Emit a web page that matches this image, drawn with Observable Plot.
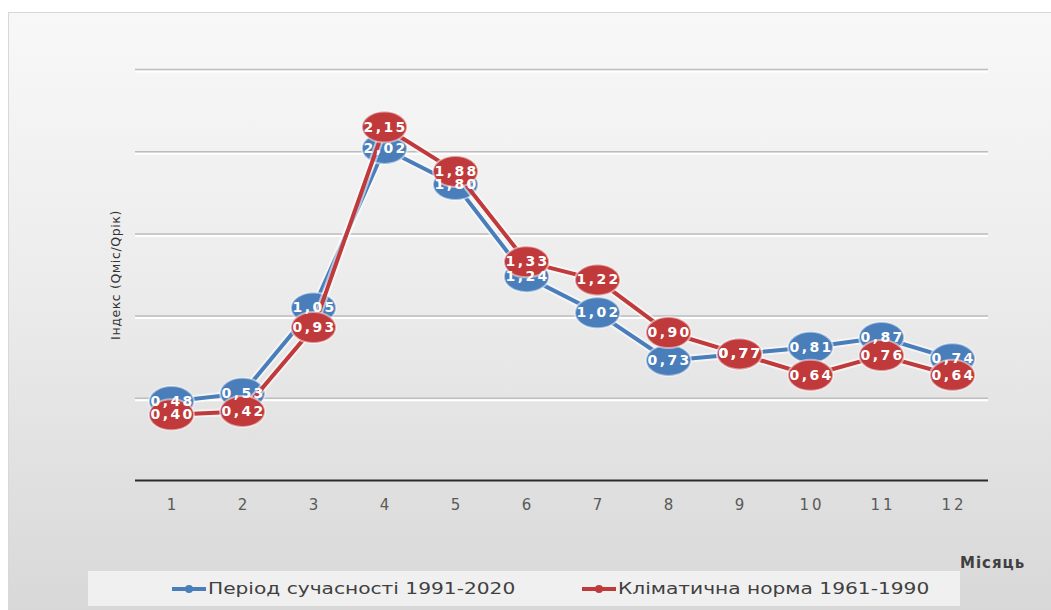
<!DOCTYPE html>
<html>
<head>
<meta charset="utf-8">
<script src="https://cdn.jsdelivr.net/npm/d3@7"></script>
<script src="https://cdn.jsdelivr.net/npm/@observablehq/plot@0.6"></script>
<style>
  html, body { margin: 0; padding: 0; background: #ffffff; }
  #wrap { position: relative; width: 1051px; height: 610px; overflow: hidden; }
  #frame { position: absolute; left: 8px; top: 12px; width: 1043px; height: 598px;
           background: linear-gradient(to bottom, #f8f8f8 0%, #ececec 45%, #d8d8d8 100%);
           border-top: 1px solid #d8d8d8; border-left: 1px solid #d8d8d8; }
  #chart { position: absolute; left: 0; top: 0; }
  .legend { position: absolute; left: 88px; top: 571px; width: 872px; height: 35px;
            background: rgba(250,250,250,0.7); font-family: "DejaVu Sans", sans-serif;
            font-size: 16px; color: #404040; }
  .item { position: absolute; top: 8px; display: flex; align-items: center; }
  .sw { position: relative; width: 34px; height: 4px; margin-right: 2px; }
  .sw i { position: absolute; left: 13px; top: -2px; width: 8px; height: 8px; border-radius: 50%; }
  .txt { display: inline-block; transform: scaleX(1.26); transform-origin: left center; white-space: nowrap; }
  .xlab { position: absolute; left: 960px; top: 554px; font-family: "DejaVu Sans", sans-serif;
          font-weight: bold; font-size: 15px; letter-spacing: 1px; color: #404040; }
</style>
</head>
<body>
<div id="wrap">
  <div id="frame"></div>
  <div id="chart"></div>
  <div class="xlab">Місяць</div>
  <div class="legend">
    <div class="item" style="left:84px"><span class="sw" style="background:#4a7ebb"><i style="background:#4a7ebb"></i></span><span class="txt" id="l1"></span></div>
    <div class="item" style="left:494px"><span class="sw" style="background:#c0393b"><i style="background:#c0393b"></i></span><span class="txt" id="l2"></span></div>
  </div>
</div>
<script>
const months = [1, 2, 3, 4, 5, 6, 7, 8, 9, 10, 11, 12];
const seriesNames = ["Період сучасності 1991-2020", "Кліматична норма 1961-1990"];
const modern = [0.48, 0.53, 1.05, 2.02, 1.80, 1.24, 1.02, 0.73, 0.77, 0.81, 0.87, 0.74];
const norm = [0.40, 0.42, 0.93, 2.15, 1.88, 1.33, 1.22, 0.90, 0.77, 0.64, 0.76, 0.64];
const colors = ["#4a7ebb", "#c0393b"];
const yTicks = [0, 0.5, 1, 1.5, 2, 2.5];
const yTitle = "Індекс (Qміс/Qрік)";

document.getElementById("l1").textContent = seriesNames[0];
document.getElementById("l2").textContent = seriesNames[1];

const fmt = v => v.toFixed(2).replace(".", ",");
const rowsA = months.map((m, i) => ({month: m, value: modern[i]}));
const rowsB = months.map((m, i) => ({month: m, value: norm[i]}));

// ellipse symbol
const ellipse = {
  draw(ctx, size) {
    const rx = 22.5, ry = 15.5, k = 0.5523;
    ctx.moveTo(rx, 0);
    ctx.bezierCurveTo(rx, ry * k, rx * k, ry, 0, ry);
    ctx.bezierCurveTo(-rx * k, ry, -rx, ry * k, -rx, 0);
    ctx.bezierCurveTo(-rx, -ry * k, -rx * k, -ry, 0, -ry);
    ctx.bezierCurveTo(rx * k, -ry, rx, -ry * k, rx, 0);
    ctx.closePath();
  }
};

function seriesMarks(rows, color) {
  return [
    Plot.line(rows, {x: "month", y: "value", stroke: "white", strokeWidth: 8, strokeOpacity: 0.55}),
    Plot.line(rows, {x: "month", y: "value", stroke: color, strokeWidth: 4}),
    Plot.dot(rows, {x: "month", y: "value", symbol: ellipse, r: 10, fill: color, stroke: "white", strokeOpacity: 0.5, strokeWidth: 2})
  ];
}
function labelMarks(rows) {
  return Plot.text(rows, {x: "month", y: "value", text: d => fmt(d.value), fill: "white",
    fontWeight: "bold", fontSize: 14, fontFamily: "DejaVu Sans, sans-serif", dy: 0, dx: 1.2, className: "vlab"});
}

const chart = Plot.plot({
  width: 1051,
  height: 530,
  marginTop: 69,
  marginBottom: 50,
  marginLeft: 135,
  marginRight: 63,
  style: {background: "transparent", fontFamily: "DejaVu Sans, sans-serif"},
  x: {type: "point", domain: months, padding: 0.5, label: null},
  y: {domain: [0, 2.5], label: null, axis: null},
  marks: [
    Plot.ruleY(yTicks.filter(d => d > 0), {stroke: "#ffffff", strokeWidth: 2, dy: 2}),
    Plot.ruleY(yTicks.filter(d => d > 0), {stroke: "#bdbdbd", strokeWidth: 1.5}),
    Plot.ruleY([0], {stroke: "#2b2b2b", strokeWidth: 2}),
    Plot.axisX({tickSize: 0, tickPadding: 19, fontSize: 15, fill: "#595959", label: null, dx: 1.5, className: "xticks"}),
    Plot.text([yTitle], {frameAnchor: "left", dx: -20, dy: 0, rotate: -90, fontSize: 12.5, fill: "#333", textAnchor: "middle", className: "ytitle"}),
    ...seriesMarks(rowsA, colors[0]),
    ...seriesMarks(rowsB, colors[1]),
    labelMarks(rowsA),
    labelMarks(rowsB)
  ]
});
d3.select(chart).selectAll(".vlab text").attr("letter-spacing", 2.4);
d3.select(chart).selectAll(".xticks text").attr("letter-spacing", 3);
d3.select(chart).selectAll(".ytitle text").attr("letter-spacing", 0.6);
document.getElementById("chart").appendChild(chart);
</script>
</body>
</html>
